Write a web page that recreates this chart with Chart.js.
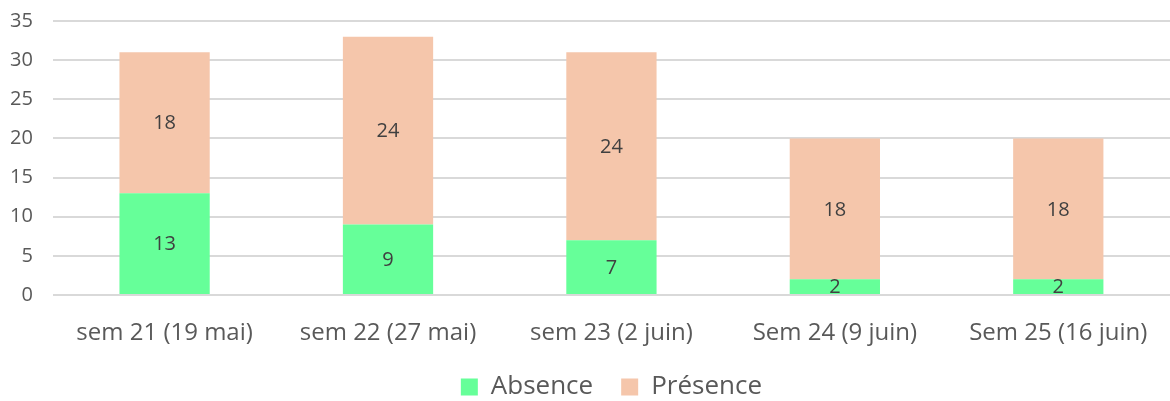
<!DOCTYPE html>
<html>
<head>
<meta charset="utf-8">
<script src="https://cdn.jsdelivr.net/npm/chart.js@4.4.1/dist/chart.umd.min.js"></script>
<style>
  html, body { margin: 0; padding: 0; background: #ffffff; }
  #wrap { width: 1170px; height: 401px; }
</style>
</head>
<body>
<div id="wrap"><canvas id="chart" width="1170" height="401"></canvas></div>
<script>
// Chart data
const weeks = ['sem 21 (19 mai)', 'sem 22 (27 mai)', 'sem 23 (2 juin)', 'Sem 24 (9 juin)', 'Sem 25 (16 juin)'];
const absence = [13, 9, 7, 2, 2];
const presence = [18, 24, 24, 18, 18];
const yTicks = [0, 5, 10, 15, 20, 25, 30, 35];

const FONT = "'Open Sans', 'Liberation Sans', sans-serif";
const LEGEND_HEIGHT = 55;
const X_AXIS_HEIGHT = 51;

// Draw value labels in the middle of each bar segment
const barLabels = {
  id: 'barLabels',
  afterDatasetsDraw(chart) {
    const { ctx } = chart;
    ctx.save();
    ctx.fillStyle = '#404040';
    ctx.font = `20px ${FONT}`;
    ctx.textAlign = 'center';
    ctx.textBaseline = 'middle';
    chart.data.datasets.forEach((ds, di) => {
      const meta = chart.getDatasetMeta(di);
      meta.data.forEach((bar, i) => {
        const mid = (bar.y + bar.base) / 2;
        ctx.fillText(String(ds.data[i]), bar.x, mid + 1);
      });
    });
    ctx.restore();
  }
};

// Keep wide spacing between legend items without a tall legend box
const legendHeight = {
  id: 'legendHeight',
  beforeUpdate(chart) {
    const legend = chart.legend;
    if (legend && !legend._fixedHeight) {
      legend._fixedHeight = true;
      const fit = legend.fit;
      legend.fit = function () {
        fit.call(this);
        this.height = LEGEND_HEIGHT;
      };
    }
  }
};

new Chart(document.getElementById('chart'), {
  type: 'bar',
  data: {
    labels: weeks,
    datasets: [
      {
        label: 'Absence',
        data: absence,
        backgroundColor: '#66ff99',
        categoryPercentage: 0.8,
        barPercentage: 0.505
      },
      {
        label: 'Présence',
        data: presence,
        backgroundColor: '#f5c6ab',
        categoryPercentage: 0.8,
        barPercentage: 0.505
      }
    ]
  },
  options: {
    responsive: false,
    animation: false,
    layout: { padding: { top: 21, right: 0, left: -10, bottom: 0 } },
    plugins: {
      legend: {
        position: 'bottom',
        fullSize: false,
        labels: {
          color: '#595959',
          font: { family: FONT, size: 26 },
          boxWidth: 17,
          boxHeight: 17,
          padding: 28
        }
      },
      tooltip: { enabled: false }
    },
    scales: {
      x: {
        stacked: true,
        grid: { display: false },
        border: { display: false },
        afterFit: scale => { scale.height = X_AXIS_HEIGHT; },
        ticks: {
          color: '#595959',
          font: { family: FONT, size: 24 },
          maxRotation: 0,
          padding: 16
        }
      },
      y: {
        stacked: true,
        min: 0,
        max: 35,
        afterBuildTicks: axis => { axis.ticks = yTicks.map(v => ({ value: v })); },
        afterFit: scale => { scale.paddingTop = 0; scale.paddingBottom = 0; },
        grid: { color: '#d9d9d9', lineWidth: 2, drawTicks: false },
        border: { display: false },
        ticks: {
          color: '#595959',
          font: { family: FONT, size: 20 },
          padding: 20
        }
      }
    }
  },
  plugins: [barLabels, legendHeight]
});
</script>
</body>
</html>
